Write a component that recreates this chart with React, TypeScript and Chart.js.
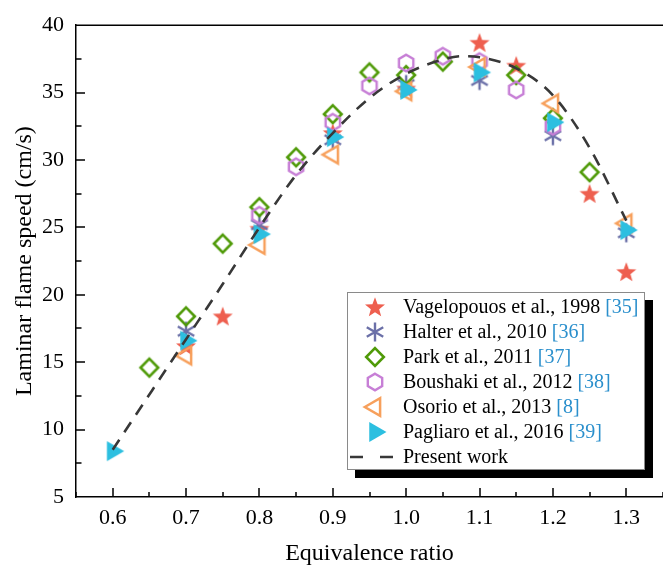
import React, { useEffect, useRef } from 'react';
import { Chart, registerables } from 'chart.js';
Chart.register(...registerables);

// ---------- data ----------
const phiVag = [0.7, 0.75, 0.8, 0.9, 1.0, 1.1, 1.15, 1.25, 1.3];
const sVag = [16.2, 18.4, 24.9, 32.0, 35.3, 38.7, 37.0, 27.5, 21.7];

const phiHalter = [0.7, 0.8, 0.9, 1.0, 1.1, 1.2, 1.3];
const sHalter = [17.3, 25.2, 31.5, 35.6, 35.9, 31.8, 24.6];

const phiPark = [0.65, 0.7, 0.75, 0.8, 0.85, 0.9, 0.95, 1.0, 1.05, 1.15, 1.2, 1.25];
const sPark = [14.6, 18.4, 23.8, 26.5, 30.2, 33.4, 36.5, 36.3, 37.3, 36.3, 33.1, 29.1];

const phiBoushaki = [0.8, 0.85, 0.9, 0.95, 1.0, 1.05, 1.1, 1.15, 1.2];
const sBoushaki = [25.9, 29.5, 32.8, 35.5, 37.2, 37.7, 37.3, 35.2, 32.5];

const phiOsorio = [0.7, 0.8, 0.9, 1.0, 1.1, 1.2, 1.3];
const sOsorio = [15.5, 23.7, 30.4, 35.1, 36.9, 34.2, 25.3];

const phiPagliaro = [0.6, 0.7, 0.8, 0.9, 1.0, 1.1, 1.2, 1.3];
const sPagliaro = [8.4, 16.6, 24.5, 31.7, 35.2, 36.5, 32.8, 24.8];

const phiModel = [0.6, 0.65, 0.7, 0.75, 0.8, 0.85, 0.9, 0.95, 1.0, 1.05, 1.075, 1.1, 1.15, 1.2, 1.25, 1.3];
const sModel = [8.5, 12.6, 16.7, 20.8, 25.0, 28.9, 32.0, 34.6, 36.4, 37.45, 37.7, 37.62, 36.8, 34.8, 30.9, 25.5];

const xTicks = [0.6, 0.7, 0.8, 0.9, 1.0, 1.1, 1.2, 1.3];
const yTicks = [5, 10, 15, 20, 25, 30, 35, 40];

const legendNames = [
  'Vagelopouos et al., 1998',
  'Halter et al., 2010',
  'Park et al., 2011',
  'Boushaki et al., 2012',
  'Osorio et al., 2013',
  'Pagliaro et al., 2016',
  'Present work',
];
const legendRefs = ['[35]', '[36]', '[37]', '[38]', '[8]', '[39]', ''];
const markerKinds = ['star', 'asterisk', 'diamond', 'hexagon', 'triLeft', 'triRight'];

// ---------- styles ----------
const FONT = "'Liberation Serif', 'Times New Roman', serif";
const COL = {
  star: '#ee5f4f',
  asterisk: '#6b70a8',
  diamond: '#4f9a08',
  hexagon: '#c77fd6',
  triLeft: '#f7a05c',
  triRight: '#2cbfe0',
  line: '#383838',
  ref: '#2a8fcc',
};

function drawMarker(ctx: CanvasRenderingContext2D, kind: string, cx: number, cy: number) {
  ctx.save();
  ctx.lineJoin = 'miter';
  const c = (COL as any)[kind];
  ctx.strokeStyle = c;
  ctx.fillStyle = c;
  ctx.beginPath();
  if (kind === 'star') {
    const R = 10.5, r = 4.4;
    for (let i = 0; i < 10; i++) {
      const a = -Math.PI / 2 + (i * Math.PI) / 5;
      const rr = i % 2 === 0 ? R : r;
      const px = cx + rr * Math.cos(a), py = cy + rr * Math.sin(a) + 0.8;
      if (i === 0) ctx.moveTo(px, py); else ctx.lineTo(px, py);
    }
    ctx.closePath();
    ctx.fill();
  } else if (kind === 'asterisk') {
    const R = 9.5;
    ctx.lineWidth = 2.4;
    for (let i = 0; i < 3; i++) {
      const a = Math.PI / 2 + (i * Math.PI) / 3;
      ctx.moveTo(cx - R * Math.cos(a), cy - R * Math.sin(a));
      ctx.lineTo(cx + R * Math.cos(a), cy + R * Math.sin(a));
    }
    ctx.stroke();
  } else if (kind === 'diamond') {
    const R = 8.8;
    ctx.lineWidth = 2.6;
    ctx.moveTo(cx, cy - R);
    ctx.lineTo(cx + R, cy);
    ctx.lineTo(cx, cy + R);
    ctx.lineTo(cx - R, cy);
    ctx.closePath();
    ctx.stroke();
  } else if (kind === 'hexagon') {
    const R = 8.3;
    ctx.lineWidth = 2.4;
    for (let i = 0; i < 6; i++) {
      const a = -Math.PI / 2 + (i * Math.PI) / 3;
      const px = cx + R * Math.cos(a), py = cy + R * Math.sin(a);
      if (i === 0) ctx.moveTo(px, py); else ctx.lineTo(px, py);
    }
    ctx.closePath();
    ctx.stroke();
  } else if (kind === 'triLeft') {
    const R = 10.2;
    ctx.lineWidth = 2.5;
    ctx.moveTo(cx - R, cy);
    ctx.lineTo(cx + R / 2, cy - (R * Math.sqrt(3)) / 2);
    ctx.lineTo(cx + R / 2, cy + (R * Math.sqrt(3)) / 2);
    ctx.closePath();
    ctx.stroke();
  } else if (kind === 'triRight') {
    const R = 11.5;
    ctx.moveTo(cx + R, cy);
    ctx.lineTo(cx - R / 2, cy - (R * Math.sqrt(3)) / 2);
    ctx.lineTo(cx - R / 2, cy + (R * Math.sqrt(3)) / 2);
    ctx.closePath();
    ctx.fill();
  }
  ctx.restore();
}

function markerImage(kind: string): HTMLCanvasElement {
  const c = document.createElement('canvas');
  c.width = 28;
  c.height = 28;
  const ctx = c.getContext('2d')!;
  drawMarker(ctx, kind, 14, 14);
  return c;
}

const decorPlugin = {
  id: 'decor',
  afterDraw(chart: any) {
    const ctx: CanvasRenderingContext2D = chart.ctx;
    const { left, right, top, bottom } = chart.chartArea;
    const xs = chart.scales.x;
    const ys = chart.scales.y;
    ctx.save();
    ctx.strokeStyle = '#000';
    ctx.lineWidth = 1.5;
    ctx.beginPath();
    ctx.moveTo(left - 0.75, top);
    ctx.lineTo(right, top);
    ctx.stroke();
    // inside ticks on x
    ctx.beginPath();
    for (let i = 11; i <= 27; i++) {
      const v = i * 0.05;
      const px = Math.round(xs.getPixelForValue(v));
      const len = i % 2 === 0 ? 9 : 5;
      ctx.moveTo(px, bottom);
      ctx.lineTo(px, bottom - len);
    }
    // inside ticks on y
    for (let i = 3; i <= 15; i++) {
      const v = i * 2.5;
      const py = Math.round(ys.getPixelForValue(v));
      const len = i % 2 === 0 ? 9 : 5.5;
      ctx.moveTo(left, py);
      ctx.lineTo(left + len, py);
    }
    ctx.stroke();

    // legend
    const bx = 347, by = 292, bw = 298, bh = 178;
    ctx.fillStyle = '#000';
    ctx.fillRect(bx + 8, by + 8, bw, bh);
    ctx.fillStyle = '#fff';
    ctx.fillRect(bx, by, bw, bh);
    ctx.strokeStyle = '#8a8a8a';
    ctx.lineWidth = 1;
    ctx.strokeRect(bx + 0.5, by + 0.5, bw - 1, bh - 1);
    ctx.font = `20px ${FONT}`;
    ctx.textBaseline = 'middle';
    ctx.textAlign = 'left';
    const rowH = 25;
    for (let i = 0; i < legendNames.length; i++) {
      const cy = by + 15 + i * rowH;
      if (i < markerKinds.length) {
        drawMarker(ctx, markerKinds[i], 375, cy);
      } else {
        ctx.save();
        ctx.strokeStyle = COL.line;
        ctx.lineWidth = 2.6;
        ctx.beginPath();
        ctx.moveTo(350, cy);
        ctx.lineTo(363, cy);
        ctx.moveTo(380, cy);
        ctx.lineTo(393, cy);
        ctx.stroke();
        ctx.restore();
      }
      const tx = 403;
      ctx.fillStyle = '#000';
      const name = legendNames[i] + (legendRefs[i] ? ' ' : '');
      ctx.fillText(name, tx, cy + 1);
      if (legendRefs[i]) {
        const w = ctx.measureText(name).width;
        ctx.fillStyle = COL.ref;
        ctx.fillText(legendRefs[i], tx + w, cy + 1);
      }
    }
    ctx.restore();
  },
};

function pts(xs: number[], ys: number[]) {
  return xs.map((x, i) => ({ x, y: ys[i] }));
}

export default function App() {
  const ref = useRef<HTMLCanvasElement>(null);
  useEffect(() => {
    if (!ref.current) return;
    Chart.defaults.font.family = FONT;
    Chart.defaults.color = '#000';
    const scatter = (label: string, kind: string, xs: number[], ys: number[], order: number) => ({
      type: 'scatter' as const,
      label,
      data: pts(xs, ys),
      pointStyle: markerImage(kind),
      pointRadius: 10,
      order,
    });
    const chart = new Chart(ref.current, {
      type: 'scatter',
      data: {
        datasets: [
          {
            type: 'line',
            label: legendNames[6],
            data: pts(phiModel, sModel),
            borderColor: COL.line,
            borderWidth: 2.6,
            borderDash: [12, 9],
            pointRadius: 0,
            fill: false,
            cubicInterpolationMode: 'monotone',
            order: 0,
          } as any,
          scatter(legendNames[5], 'triRight', phiPagliaro, sPagliaro, 1),
          scatter(legendNames[4], 'triLeft', phiOsorio, sOsorio, 2),
          scatter(legendNames[3], 'hexagon', phiBoushaki, sBoushaki, 3),
          scatter(legendNames[2], 'diamond', phiPark, sPark, 4),
          scatter(legendNames[1], 'asterisk', phiHalter, sHalter, 5),
          scatter(legendNames[0], 'star', phiVag, sVag, 6),
        ],
      },
      options: {
        animation: false,
        responsive: false,
        devicePixelRatio: 1,
        layout: { autoPadding: false, padding: { top: 22, right: 0, left: 0, bottom: 0 } },
        plugins: { legend: { display: false }, tooltip: { enabled: false } },
        scales: {
          x: {
            type: 'linear',
            min: 0.55,
            max: 1.35,
            afterBuildTicks: (s: any) => {
              s.ticks = xTicks.map((v) => ({ value: v }));
            },
            afterFit: (s: any) => {
              s.height = 73;
              s.paddingRight = 0;
              s.paddingLeft = 0;
            },
            ticks: {
              font: { size: 22, family: FONT },
              color: '#000',
              padding: 8,
              maxRotation: 0,
              callback: (v: any) => Number(v).toFixed(1),
            },
            grid: { drawOnChartArea: false, drawTicks: false },
            border: { display: true, color: '#000', width: 1.5 },
            title: {
              display: true,
              text: 'Equivalence ratio',
              font: { size: 24, family: FONT },
              color: '#000',
              padding: { top: 0, bottom: 2 },
            },
          },
          y: {
            type: 'linear',
            min: 5,
            max: 40,
            afterBuildTicks: (s: any) => {
              s.ticks = yTicks.map((v) => ({ value: v }));
            },
            afterFit: (s: any) => {
              s.width = 76;
            },
            ticks: {
              font: { size: 22, family: FONT },
              color: '#000',
              padding: 12,
            },
            grid: { drawOnChartArea: false, drawTicks: false },
            border: { display: true, color: '#000', width: 1.5 },
            title: {
              display: true,
              text: 'Laminar flame speed (cm/s)',
              font: { size: 24, family: FONT },
              color: '#000',
              padding: { top: 10, bottom: 0 },
            },
          },
        },
      },
      plugins: [decorPlugin],
    } as any);
    return () => chart.destroy();
  }, []);
  return (
    <div style={{ position: 'absolute', left: 0, top: 0, width: 663, height: 570, background: '#fff' }}>
      <canvas ref={ref} width={663} height={570} style={{ display: 'block' }} />
    </div>
  );
}
